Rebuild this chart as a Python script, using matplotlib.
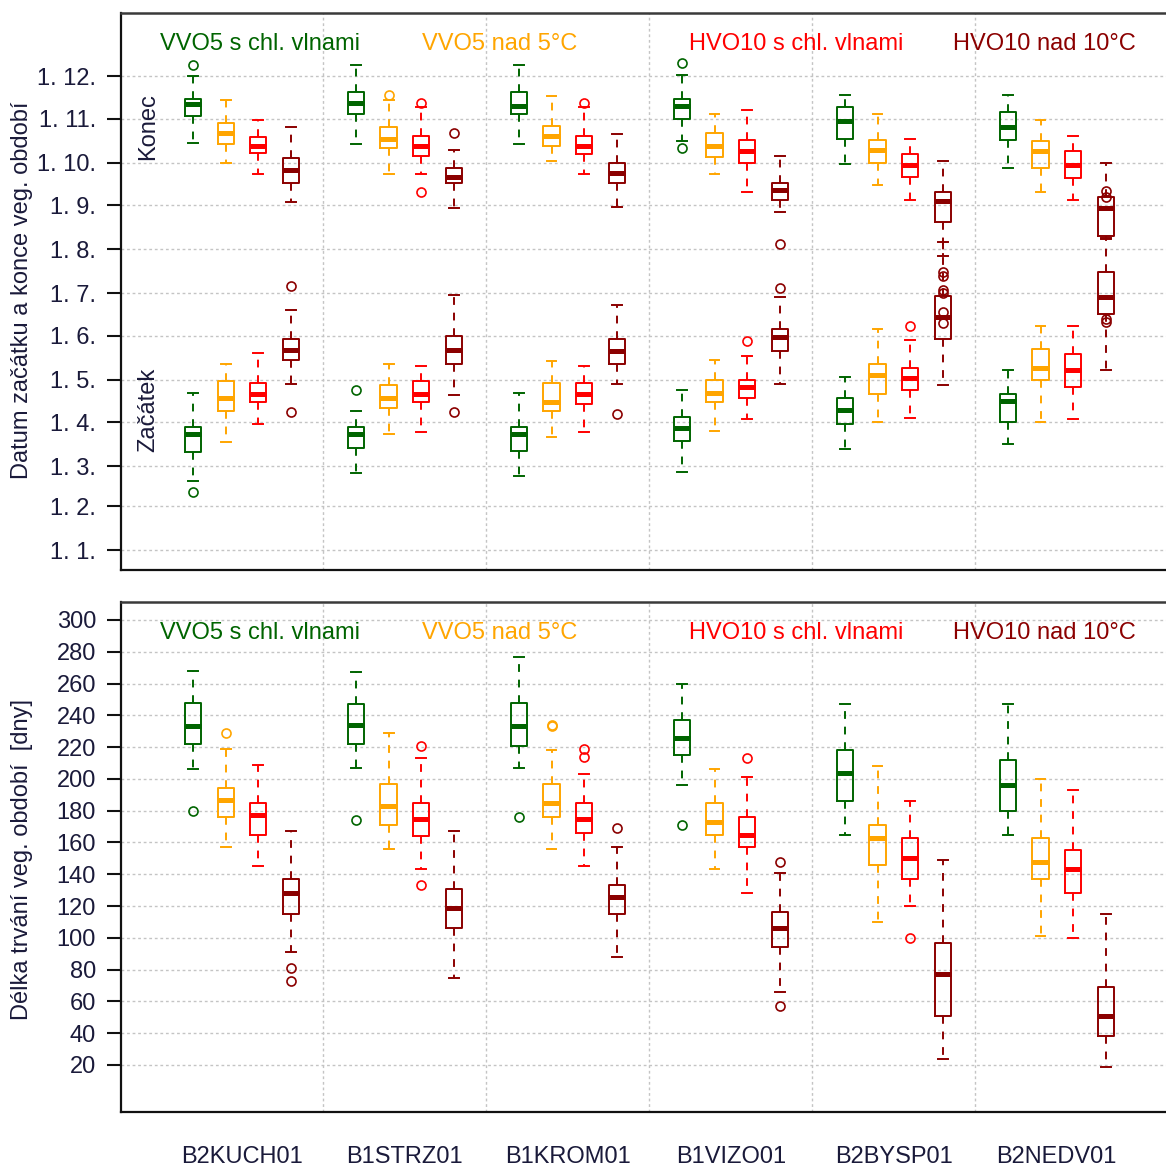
import matplotlib.pyplot as plt
from matplotlib.transforms import blended_transform_factory

plt.rcParams['font.family'] = ['Liberation Sans', 'DejaVu Sans']

stations = ["B2KUCH01", "B1STRZ01", "B1KROM01", "B1VIZO01", "B2BYSP01", "B2NEDV01"]
series_names = ["VVO5 s chl. vlnami", "VVO5 nad 5°C", "HVO10 s chl. vlnami", "HVO10 nad 10°C"]
series_colors = ["#006400", "#FFA500", "#FF0000", "#8B0000"]

# first day of each month as day of year
month_ticks = [1, 32, 60, 91, 121, 152, 182, 213, 244, 274, 305, 335]
month_labels = ["1. %d." % m for m in range(1, 13)]
days_ticks = list(range(20, 301, 20))

# rows = stations, columns = series (green, orange, red, dark red); day of year
konec_hi = [[335, 318, 304, 299], [343, 318, 313, 283], [343, 321, 313, 294],
            [336, 308, 311, 279], [322, 308, 291, 275], [322, 304, 293, 274]]
konec_q3 = [[319, 302, 292, 277], [324, 299, 293, 270], [324, 300, 293, 274],
            [319, 295, 290, 260], [313, 290, 280, 253], [310, 289, 282, 250]]
konec_med = [[315, 295, 286, 269], [316, 291, 286, 264], [314, 293, 286, 267],
             [314, 286, 282, 255], [303, 283, 272, 247], [299, 282, 272, 242]]
konec_q1 = [[307, 287, 281, 260], [308, 284, 279, 260], [308, 286, 280, 260],
            [305, 278, 274, 248], [291, 274, 264, 232], [290, 270, 263, 222]]
konec_lo = [[288, 274, 266, 246], [287, 266, 266, 242], [287, 275, 266, 243],
            [289, 266, 253, 239], [273, 258, 248, 208], [270, 253, 248, 221]]
konec_out = [[[343], [], [], []], [[], [322], [316, 253], [295]], [[], [], [316], []],
             [[344, 284], [], [], [217]], [[], [], [], [197, 194, 184, 182, 169, 161]],
             [[], [], [], [164, 162]]]

zacatek_hi = [[112, 132, 140, 170], [99, 132, 131, 181], [112, 134, 131, 174],
              [114, 135, 138, 179], [123, 157, 149, 218], [128, 159, 159, 220]]
zacatek_q3 = [[88, 120, 119, 150], [88, 117, 120, 152], [88, 119, 119, 150],
              [95, 121, 121, 157], [108, 132, 129, 180], [111, 143, 139, 197]]
zacatek_med = [[83, 108, 111, 142], [83, 108, 111, 142], [83, 105, 111, 141],
               [87, 112, 116, 151], [100, 124, 122, 165], [106, 129, 128, 179]]
zacatek_q1 = [[70, 99, 105, 135], [73, 101, 105, 132], [71, 99, 104, 132],
              [78, 105, 108, 141], [90, 111, 114, 150], [91, 121, 116, 167]]
zacatek_lo = [[50, 77, 90, 118], [55, 83, 84, 110], [53, 81, 84, 118],
              [56, 85, 93, 118], [72, 91, 94, 117], [76, 91, 93, 128]]
zacatek_out = [[[42], [], [], [187, 98]], [[114], [], [], [98]], [[], [], [], [97]],
               [[], [], [148], [186]], [[], [], [159], []], [[], [], [], [254, 250]]]

# length of the vegetation period [days]
delka_hi = [[268, 219, 209, 167], [267, 229, 213, 167], [277, 218, 203, 157],
            [260, 206, 201, 141], [247, 208, 186, 149], [247, 200, 193, 115]]
delka_q3 = [[248, 194, 185, 137], [247, 197, 185, 131], [248, 197, 185, 133],
            [237, 185, 176, 116], [218, 171, 163, 97], [212, 163, 155, 69]]
delka_med = [[233, 187, 177, 128], [234, 183, 175, 119], [233, 185, 175, 126],
             [226, 173, 165, 106], [204, 163, 150, 77], [196, 148, 143, 51]]
delka_q1 = [[222, 176, 165, 115], [222, 171, 164, 106], [221, 176, 166, 115],
            [215, 165, 157, 94], [186, 146, 137, 51], [180, 137, 128, 38]]
delka_lo = [[206, 157, 145, 91], [207, 156, 143, 75], [207, 156, 145, 88],
            [196, 143, 128, 66], [165, 110, 120, 24], [165, 101, 100, 19]]
delka_out = [[[180], [229], [], [81, 73]], [[174], [], [221, 133], []],
             [[176], [233, 234], [219, 214], [169]], [[171], [], [213], [148, 57]],
             [[], [], [100], []], [[], [], [], []]]

TXT = "#1a1a3a"
GRID = "#c4c4c4"


def draw_boxes(ax, hi, q3, med, q1, lo, out):
    for k, col in enumerate(series_colors):
        stats = []
        for g in range(len(stations)):
            stats.append(dict(med=med[g][k], q1=q1[g][k], q3=q3[g][k],
                              whislo=lo[g][k], whishi=hi[g][k], fliers=out[g][k]))
        pos = [5 * g + k + 1 for g in range(len(stations))]
        ax.bxp(stats, positions=pos, widths=0.5, capwidths=0.3, manage_ticks=False,
               boxprops=dict(color=col, lw=1.4),
               medianprops=dict(color=col, lw=3.6, solid_capstyle='butt'),
               whiskerprops=dict(color=col, lw=1.4, linestyle=(0, (4, 4))),
               capprops=dict(color=col, lw=1.4),
               flierprops=dict(marker='o', markerfacecolor='none', markeredgecolor=col,
                               markersize=6.5, markeredgewidth=1.2))


def style_axes(ax, ticks, labels):
    ax.set_xlim(-1.21, 30.85)
    ax.set_yticks(ticks)
    ax.set_yticklabels(labels)
    ax.set_xticks([])
    for t in ticks:
        ax.axhline(t, color=GRID, lw=1, linestyle=(0, (2, 2)), zorder=0)
    for x in [5, 10, 15, 20, 25]:
        ax.axvline(x, color=GRID, lw=1, linestyle=(0, (2, 2)), zorder=0)
    ax.spines['right'].set_visible(False)
    for s in ['left', 'bottom']:
        ax.spines[s].set_linewidth(1.6)
        ax.spines[s].set_color('#111111')
    ax.spines['top'].set_linewidth(1.8)
    ax.spines['top'].set_color('#3a3a3a')
    ax.tick_params(axis='y', direction='out', length=10, width=1.5, pad=8,
                   labelsize=17, labelcolor=TXT, color='#111111')
    xs = [0.133, 0.3627, 0.6459, 0.8833]
    for x, name, col in zip(xs, series_names, series_colors):
        ax.text(x, 0.944, name, transform=ax.transAxes, ha='center', va='center',
                fontsize=17, color=col)


fig = plt.figure(figsize=(11.66, 11.66), dpi=100)
ax1 = fig.add_axes([0.1038, 0.5111, 0.8962, 0.4777])
ax2 = fig.add_axes([0.1038, 0.0463, 0.8962, 0.4374])

draw_boxes(ax1, konec_hi, konec_q3, konec_med, konec_q1, konec_lo, konec_out)
draw_boxes(ax1, zacatek_hi, zacatek_q3, zacatek_med, zacatek_q1, zacatek_lo, zacatek_out)
style_axes(ax1, month_ticks, month_labels)
ax1.set_ylim(-13.1, 379.4)

draw_boxes(ax2, delka_hi, delka_q3, delka_med, delka_q1, delka_lo, delka_out)
style_axes(ax2, days_ticks, [str(d) for d in days_ticks])
ax2.set_ylim(-9.6, 311.3)
# group labels in the lower panel sit a bit lower
for t in ax2.texts:
    t.set_y(0.939)

trans = blended_transform_factory(ax2.transData, ax2.transAxes)
for g, name in enumerate(stations):
    ax2.text(5 * g + 2.5, -0.088, name, transform=trans, ha='center', va='center',
             fontsize=17, color=TXT)

fig.text(22 / 1166, 1 - 290 / 1166, "Datum začátku a konce veg. období", rotation=90,
         ha='center', va='center', fontsize=17, color=TXT)
fig.text(22 / 1166, 1 - 860 / 1166, "Délka trvání veg. období  [dny]", rotation=90,
         ha='center', va='center', fontsize=17, color=TXT)
fig.text(148 / 1166, 1 - 127 / 1166, "Konec", rotation=90, ha='center', va='center',
         fontsize=17, color=TXT)
fig.text(148 / 1166, 1 - 410 / 1166, "Začátek", rotation=90, ha='center', va='center',
         fontsize=17, color=TXT)

fig.savefig("out.png", dpi=100)
